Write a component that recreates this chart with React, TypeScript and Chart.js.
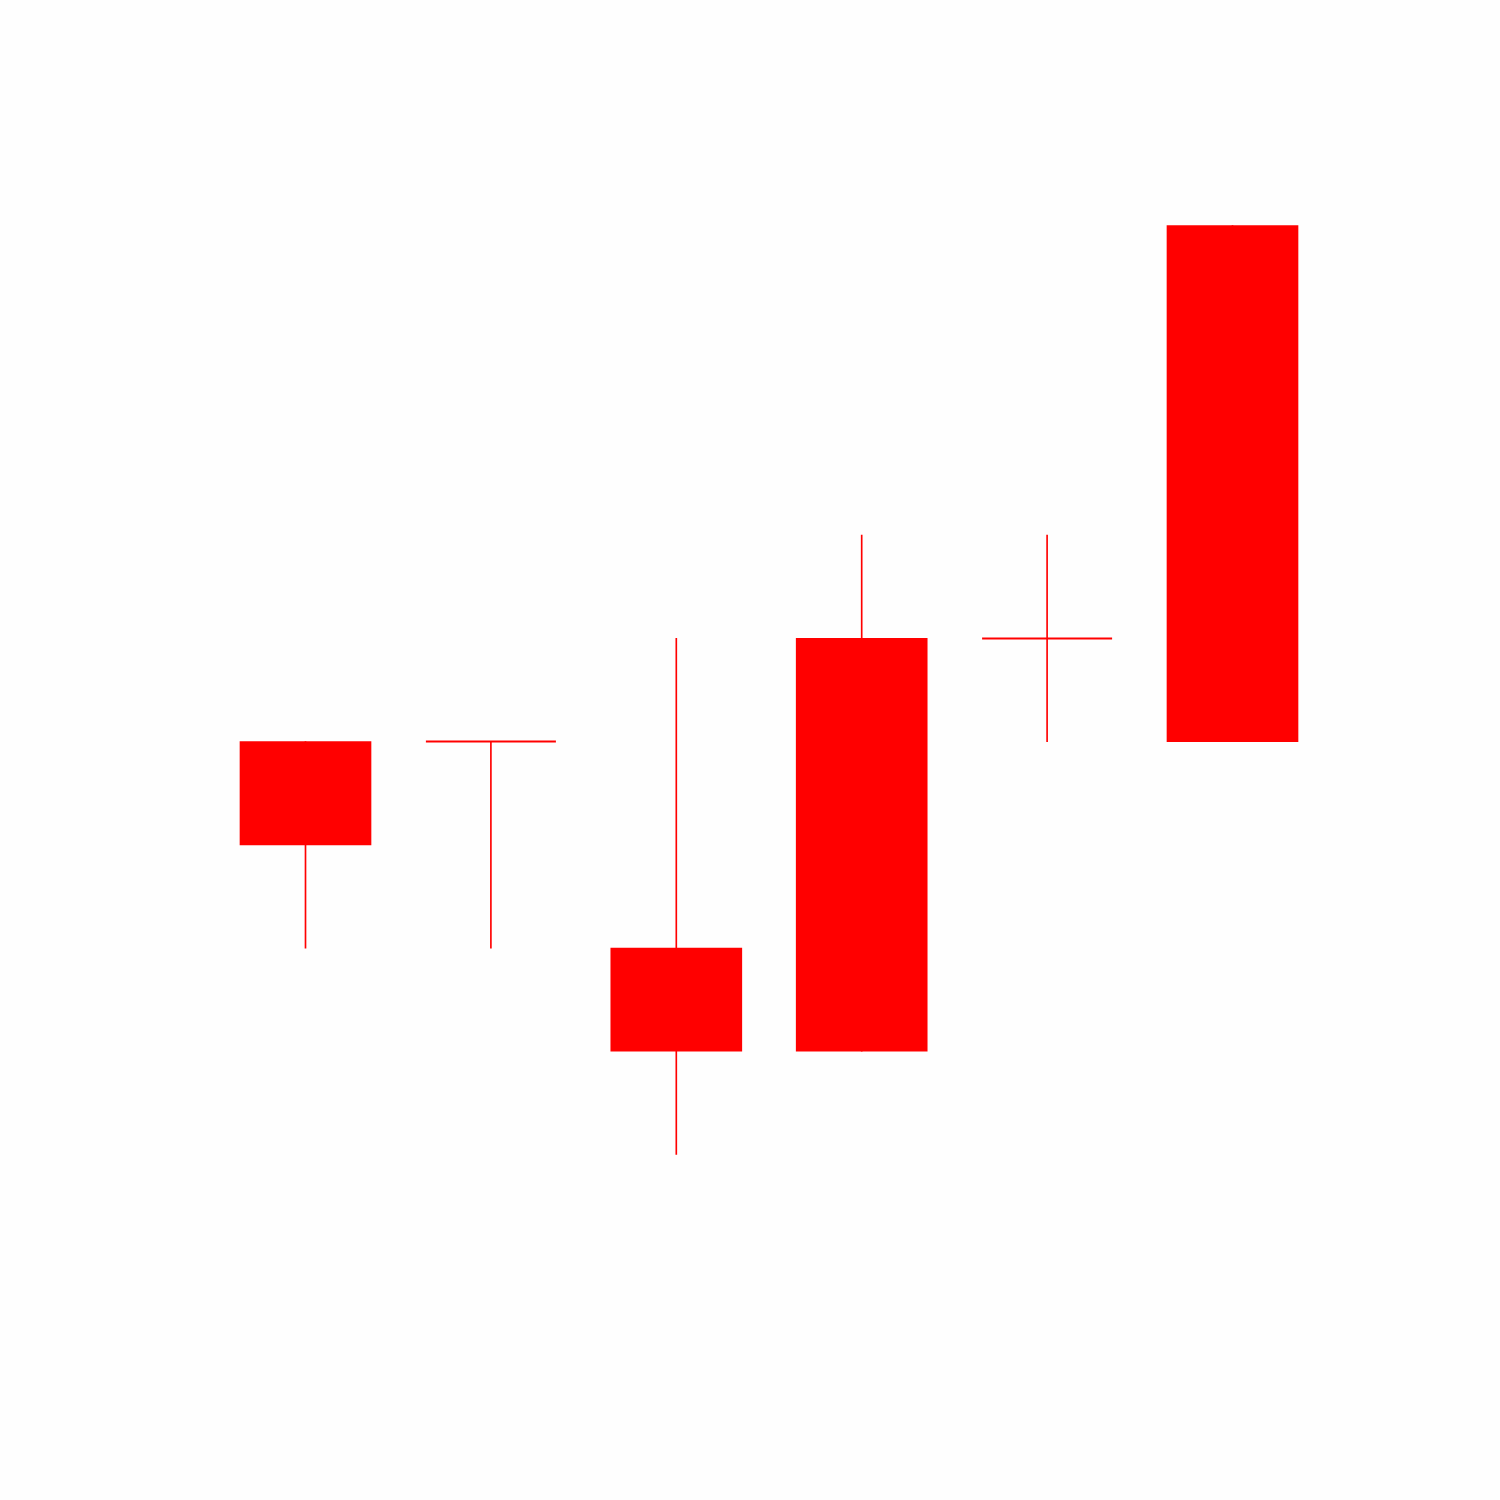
import React, { useEffect, useRef } from "react";
import { Chart, registerables } from "chart.js";

Chart.register(...registerables);

const categories = ["1", "2", "3", "4", "5", "6"];
const opens = [4, 4, 2, 1, 5, 4];
const closes = [3, 4, 1, 5, 5, 9];
const highs = [4, 4, 5, 6, 6, 9];
const lows = [2, 2, 0, 1, 4, 4];

const RED = "rgb(255,0,0)";

export default function App() {
  const ref = useRef<HTMLCanvasElement | null>(null);
  useEffect(() => {
    if (!ref.current) return;
    const bodies = opens.map((o, i) => (o === closes[i] ? null : [o, closes[i]]));
    const wicks = lows.map((l, i) => [l, highs[i]]);
    const dojis = opens.map((o, i) => (o === closes[i] ? o : null));
    const chart = new Chart(ref.current, {
      type: "bar",
      data: {
        labels: categories,
        datasets: [
          {
            type: "bar",
            label: "wick",
            data: wicks as any,
            backgroundColor: RED,
            barThickness: 1,
            grouped: false,
            order: 3,
          } as any,
          {
            type: "bar",
            label: "body",
            data: bodies as any,
            backgroundColor: RED,
            barThickness: 131,
            grouped: false,
            order: 1,
          } as any,
          {
            type: "line",
            label: "doji",
            data: dojis as any,
            showLine: false,
            pointStyle: "line",
            pointRadius: 65,
            pointHoverRadius: 65,
            pointBorderWidth: 2,
            borderColor: RED,
            backgroundColor: RED,
            order: 0,
          } as any,
        ],
      },
      options: {
        animation: false,
        responsive: false,
        events: [],
        layout: { padding: { left: 212.8, right: 174.8, top: 122.3, bottom: 242.3 } },
        plugins: { legend: { display: false }, tooltip: { enabled: false } },
        scales: {
          x: { display: false, offset: true },
          y: { display: false, min: -1, max: 10 },
        },
      },
    });
    return () => chart.destroy();
  }, []);
  return (
    <div style={{ position: "absolute", left: 0, top: 0, width: 1500, height: 1500, background: "#fefefe" }}>
      <canvas ref={ref} width={1500} height={1500} style={{ width: 1500, height: 1500 }} />
    </div>
  );
}
